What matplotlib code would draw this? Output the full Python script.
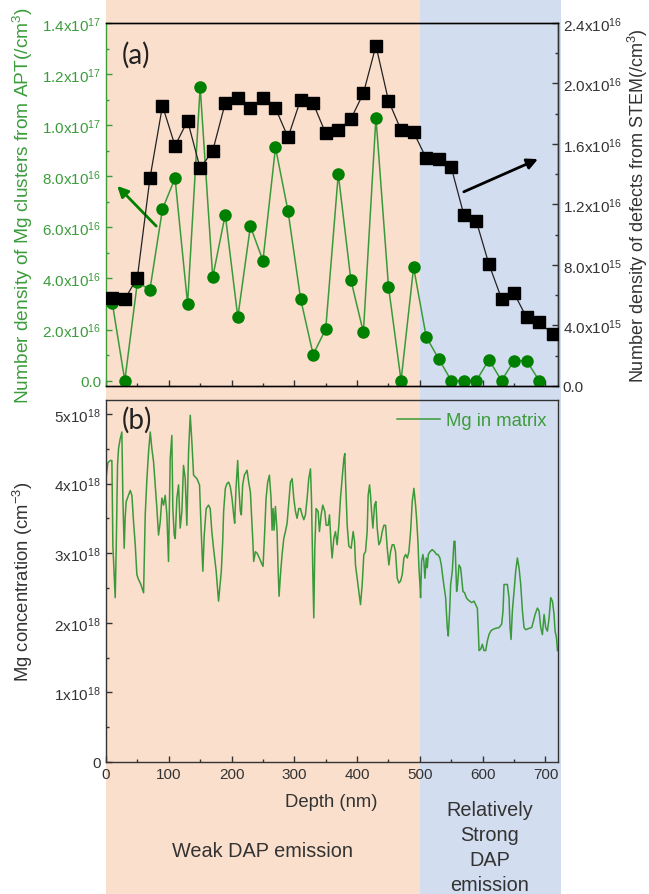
#!/usr/bin/env python3
"""Mg cluster / defect density (a) and Mg-in-matrix profile (b) vs depth."""
import matplotlib

matplotlib.use("Agg")
import matplotlib.pyplot as plt
import numpy as np
from matplotlib.patches import Rectangle
from matplotlib.ticker import FuncFormatter, MultipleLocator
from matplotlib.transforms import blended_transform_factory

# (a) number density of Mg clusters from APT (/cm^3), left axis
APT_DEPTH = [10, 30, 50, 70, 90, 110, 130, 150, 170, 190, 210, 230, 250, 270, 290,
             310, 330, 350, 370, 390, 410, 430, 450, 470, 490, 510, 530, 550, 570,
             590, 610, 630, 650, 670, 690]
APT_DENSITY = [3.05e16, 0, 3.85e16, 3.56e16, 6.72e16, 7.92e16, 3.0e16, 1.15e17,
               4.05e16, 6.5e16, 2.48e16, 6.04e16, 4.7e16, 9.13e16, 6.63e16, 3.2e16,
               1.02e16, 2.02e16, 8.09e16, 3.95e16, 1.89e16, 1.03e17, 3.68e16, 0,
               4.44e16, 1.72e16, 0.85e16, 0, 0, 0, 0.82e16, 0, 0.78e16, 0.78e16, 0]

# (a) number density of defects from STEM (/cm^3), right axis
STEM_DEPTH = [10, 30, 50, 70, 90, 110, 130, 150, 170, 190, 210, 230, 250, 270, 290,
              310, 330, 350, 370, 390, 410, 430, 450, 470, 490, 510, 530, 550, 570,
              590, 610, 630, 650, 670, 690, 712]
STEM_DENSITY = [5.85e15, 5.74e15, 7.17e15, 13.73e15, 18.53e15, 15.88e15, 17.54e15,
                14.39e15, 15.55e15, 18.71e15, 19.04e15, 18.36e15, 19.04e15, 18.36e15,
                16.44e15, 18.93e15, 18.69e15, 16.70e15, 16.92e15, 17.65e15, 19.35e15,
                22.5e15, 18.86e15, 16.92e15, 16.77e15, 15.07e15, 15.0e15, 14.45e15,
                11.32e15, 10.88e15, 8.05e15, 5.78e15, 6.13e15, 4.53e15, 4.2e15, 3.42e15]

# (b) Mg in matrix, units of 1e18 cm^-3
MG_DEPTH = [
    0, 3, 7, 9.4, 11, 12, 14.7, 16.3, 18.4, 20, 22.6, 25.3, 26.9, 29, 30.5, 32.2,
    35.9, 38.6, 41.3, 43.9, 46.6, 49.2, 51.9, 55.6, 59.9, 62.5, 65.2, 67.8, 70.5,
    73.1, 75.8, 78.4, 81.1, 83.7, 86.4, 89.0, 91.7, 94.3, 97.0, 99.6, 102.3, 104.9,
    106.5, 108.7, 110.3, 112.9, 115.6, 118.2, 120.9, 123.5, 126.2, 128.8, 131.5,
    134.2, 136.8, 139.5, 144.8, 149.0, 151.7, 154.3, 156.5, 159.6, 163.3, 166.0,
    168.6, 171.3, 175.5, 179.3,
    183.7, 185.9, 187.4, 190.1, 192.8, 195.4, 198.1, 200.7, 203.4, 205.0, 207.1,
    209.8, 211.4, 214.0, 215.6, 217.7, 220.4, 224.7, 227.3, 230.0, 231.6, 233.7,
    235.3, 238.0, 240.6, 244.3, 247.5, 250.2, 252.8, 255.0, 257.6, 260.3, 262.9,
    264.6, 266.2, 267.7, 269.9, 272.5, 274.1, 275.7, 277.9, 280.5, 283.2, 285.8,
    288.5, 291.2, 293.8, 296.5, 299.1, 301.8, 304.4, 307.1, 309.8, 312.4, 315.1,
    317.7, 320.4, 323.0, 325.7, 327.3, 329.4, 331.0, 332.6, 334.7, 337.9, 340.0,
    342.7, 345.3, 348.5, 350.7, 353.9, 356.0, 358.6, 360.2, 362.9,
    365.5, 368.2, 370.9, 373.5, 376.2, 378.9, 380.4, 381.5, 384.2, 386.8, 390.5,
    393.7, 395.9, 397.4, 400.1, 402.8, 405.4, 408.1, 410.7, 413.4, 416.0, 417.6,
    419.8, 421.4, 423.0, 425.1, 427.8, 429.9, 432.0, 434.7, 437.3, 440.0, 442.7,
    445.3, 448.0, 450.6, 453.3, 455.9, 458.6, 461.2, 463.9, 466.6, 469.2, 471.9,
    474.5, 477.2, 479.9, 482.5, 485.2, 487.8, 490.5, 493.1, 494.7, 496.9, 498.5,
    500.1, 501.1, 502.7, 504.8, 506.4, 508.0, 510.2, 511.8, 513.4, 516.0, 519.7,
    523.4, 526.6, 528.8, 531.9, 534.1, 537.3,
    541.0, 543.6, 545.2, 547.4, 549.0, 551.6, 554.3, 555.9, 556.9, 558.5, 560.1,
    562.3, 564.9, 566.5, 568.6, 571.3, 574.0, 576.6, 579.3, 582.5, 586.2, 588.8,
    591.5, 593.1, 594.2, 596.8, 599.5, 602.1, 604.8, 607.5, 610.1, 612.8, 615.4,
    620.7, 626.0, 630.3, 632.4, 634.0, 636.7, 639.3, 642.0, 643.6, 645.2, 647.3,
    650.0, 652.6, 655.3, 657.9, 660.6, 663.3, 665.9, 668.6, 673.9, 678.1, 680.8,
    683.5, 687.2, 689.8, 692.5, 695.1, 697.8, 700.4, 703.1, 705.8, 708.4, 711.1,
    713.7, 715.3, 717.5, 719.1,
]
MG_CONC = [
    4.07, 4.30, 4.33, 4.33, 3.10, 2.90, 2.36, 3.07, 4.26, 4.50, 4.64, 4.74, 3.79,
    3.07, 3.50, 3.74, 3.83, 3.90, 3.83, 3.45, 3.12, 2.69, 2.62, 2.55, 2.43, 3.55,
    4.07, 4.45, 4.74, 4.50, 4.31, 3.98, 3.64, 3.26, 3.45, 3.79, 3.69, 3.83, 3.55,
    2.88, 4.36, 4.69, 3.64, 3.26, 3.21, 3.79, 3.98, 3.36, 3.60, 4.26, 4.07, 3.40,
    4.45, 4.98, 4.60, 4.12, 4.07, 3.98, 3.31, 2.74, 3.26, 3.64, 3.69, 3.64, 3.31,
    3.07, 2.74, 2.31,
    2.74, 3.17, 3.60, 3.93, 4.00, 4.02, 3.95, 3.79, 3.55, 3.43, 3.93, 4.33, 3.98,
    3.60, 3.55, 3.98, 4.12, 4.19, 4.02, 3.88, 3.60, 3.21, 2.88, 3.02, 3.00, 2.93,
    2.86, 2.81, 3.31, 3.79, 4.02, 4.12, 3.79, 3.33, 3.64, 3.33, 3.67, 3.31, 2.79,
    2.38, 2.69, 2.98, 3.21, 3.31, 3.43, 3.74, 4.02, 4.07, 3.79, 3.60, 3.50, 3.64,
    3.64, 3.55, 3.48, 3.55, 3.79, 4.07, 4.21, 3.79, 2.74, 2.07, 3.07, 3.64, 3.60,
    3.31, 3.55, 3.69, 3.60, 3.40, 3.40, 3.55, 3.12, 2.93, 3.21,
    3.31, 3.12, 3.40, 3.79, 4.07, 4.36, 4.43, 4.07, 3.40, 3.10, 3.07, 3.31, 3.17,
    2.83, 2.64, 2.45, 2.26, 2.55, 2.98, 3.02, 3.31, 3.83, 3.98, 3.83, 3.60, 3.36,
    3.69, 3.74, 3.36, 3.12, 3.17, 3.31, 3.40, 3.40, 3.07, 2.83, 3.02, 3.12, 3.12,
    3.02, 2.64, 2.57, 2.60, 2.69, 2.93, 2.98, 2.93, 3.02, 3.31, 3.74, 3.93, 3.69,
    3.50, 3.17, 2.79, 2.55, 2.36, 2.88, 2.98, 2.88, 2.64, 2.93, 2.79, 2.98, 3.02,
    3.05, 3.02, 2.98, 2.98, 2.93, 2.83, 2.60,
    2.36, 1.93, 1.81, 2.17, 2.55, 2.74, 3.17, 3.17, 2.88, 2.45, 2.55, 2.83, 2.79,
    2.64, 2.45, 2.43, 2.36, 2.33, 2.31, 2.29, 2.31, 2.26, 2.21, 1.88, 1.60, 1.62,
    1.69, 1.60, 1.60, 1.74, 1.83, 1.88, 1.90, 1.92, 1.93, 1.98, 2.17, 2.55, 2.55,
    2.55, 2.36, 1.93, 1.76, 2.17, 2.45, 2.74, 2.93, 2.79, 2.55, 2.17, 1.93, 1.90,
    1.92, 1.93, 2.02, 2.12, 2.21, 2.17, 1.93, 1.83, 2.12, 1.93, 1.88, 2.07, 2.36,
    2.31, 2.12, 1.88, 1.79, 1.60,
]

WEAK_END = 500
STRONG_END = 725

PEACH = "#fadfcc"
BLUE = "#d3ddf0"
GREEN = "#008000"
GREEN_LINE = "#3a9a3a"
GREEN_TXT = "#3c9c3c"
DARK = "#333333"

plt.rcParams["font.family"] = ["Liberation Sans", "DejaVu Sans"]
plt.rcParams["mathtext.fontset"] = "custom"
plt.rcParams["mathtext.rm"] = "Liberation Sans"
plt.rcParams["axes.linewidth"] = 1.0


def _sci(decimals: int) -> FuncFormatter:
    def fmt(v, pos):
        if v < -1.0:
            return ""
        if abs(v) <= 1.0:
            return "0.0" if decimals else "0"
        e = int(np.floor(np.log10(v) + 1e-9))
        m = v / 10 ** e
        return rf"{m:.{decimals}f}x10$\mathregular{{^{{{e}}}}}$"
    return FuncFormatter(fmt)


def _ticks(ax, color=DARK):
    ax.tick_params(which="major", direction="in", length=4, width=1, color=color,
                   labelsize=11, labelcolor=color)
    ax.tick_params(which="minor", direction="in", length=2.5, width=1, color=color)


fig = plt.figure(figsize=(6.49, 8.95), dpi=100)
ax1 = fig.add_axes([0.1633, 0.5676, 0.6965, 0.4056])
ax2 = fig.add_axes([0.1633, 0.1475, 0.6965, 0.4045])
for ax in (ax1, ax2):
    ax.set_facecolor("none")
    ax.set_xlim(0, 720)
    ax.xaxis.set_major_locator(MultipleLocator(100))
    ax.xaxis.set_minor_locator(MultipleLocator(50))
    for sp in ax.spines.values():
        sp.set_color(DARK)

# background bands spanning the whole figure height
band = blended_transform_factory(ax2.transData, fig.transFigure)
fig.add_artist(Rectangle((0, 0), WEAK_END, 1, transform=band, color=PEACH, zorder=-1, lw=0))
fig.add_artist(Rectangle((WEAK_END, 0), STRONG_END - WEAK_END, 1, transform=band,
                         color=BLUE, zorder=-1, lw=0))

# ---- (a)
ax1.plot(APT_DEPTH, APT_DENSITY, "-", color=GREEN_LINE, lw=1.1, zorder=2)
ax1.plot(APT_DEPTH, APT_DENSITY, "o", color=GREEN, ms=8, mec=GREEN, zorder=3)
ax1.set_ylim(-2.1e15, 1.4e17)
ax1.yaxis.set_major_locator(MultipleLocator(2e16))
ax1.yaxis.set_minor_locator(MultipleLocator(1e16))
ax1.yaxis.set_major_formatter(_sci(1))
_ticks(ax1)
ax1.tick_params(axis="y", which="both", color=GREEN_TXT, labelcolor=GREEN_TXT)
ax1.tick_params(labelbottom=False)
ax1.spines["left"].set_color(GREEN_TXT)
ax1.set_ylabel(r"Number density of Mg clusters from APT(/cm$\mathregular{^3}$)",
               color=GREEN_TXT, fontsize=13.8)
ax1.yaxis.set_label_coords(-0.158, 0.5)
ax1.text(0.034, 0.95, "(a)", transform=ax1.transAxes, fontsize=20, va="top",
         family=["Lato", "DejaVu Sans"], color="#222222")
ax1.annotate("", xy=(18, 7.62e16), xytext=(80, 6.05e16),
             arrowprops=dict(arrowstyle="-|>", lw=2, color=GREEN, mutation_scale=16,
                             shrinkA=0, shrinkB=0))

axr = ax1.twinx()
axr.plot(STEM_DEPTH, STEM_DENSITY, "-", color="#222222", lw=0.9, zorder=2)
axr.plot(STEM_DEPTH, STEM_DENSITY, "s", color="black", ms=8.5, zorder=3)
axr.set_ylim(0, 2.4e16)
axr.yaxis.set_major_locator(MultipleLocator(4e15))
axr.yaxis.set_minor_locator(MultipleLocator(2e15))
axr.yaxis.set_major_formatter(_sci(1))
_ticks(axr)
axr.spines["left"].set_visible(False)
axr.spines["right"].set_color(DARK)
axr.set_ylabel(r"Number density of defects from STEM(/cm$\mathregular{^3}$)",
               color=DARK, fontsize=13)
axr.yaxis.set_label_coords(1.150, 0.5)
axr.annotate("", xy=(688, 15.0e15), xytext=(570, 12.84e15),
             arrowprops=dict(arrowstyle="-|>", lw=2, color="black", mutation_scale=16,
                             shrinkA=0, shrinkB=0))

# ---- (b)
ax2.plot(MG_DEPTH, np.array(MG_CONC) * 1e18, "-", color=GREEN_LINE, lw=1.1,
         label="Mg in matrix")
ax2.set_ylim(0, 5.2e18)
ax2.yaxis.set_major_locator(MultipleLocator(1e18))
ax2.yaxis.set_minor_locator(MultipleLocator(5e17))
ax2.yaxis.set_major_formatter(_sci(0))
_ticks(ax2)
ax2.set_ylabel(r"Mg concentration (cm$\mathregular{^{-3}}$)", color=DARK, fontsize=13.3)
ax2.yaxis.set_label_coords(-0.158, 0.5)
ax2.set_xlabel("Depth (nm)", color=DARK, fontsize=13.3)
ax2.xaxis.set_label_coords(0.498, -0.085)
ax2.text(0.034, 0.985, "(b)", transform=ax2.transAxes, fontsize=20, va="top",
         family=["Lato", "DejaVu Sans"], color="#222222")
leg = ax2.legend(loc="upper right", frameon=False, fontsize=13.3, handlelength=2.3,
                 handletextpad=0.3, borderaxespad=0.25, labelcolor=GREEN_TXT)

fig.text(0.404, 0.049, "Weak DAP emission", ha="center", va="center", fontsize=14.3,
         color=DARK)
fig.text(0.755, 0.0525, "Relatively\nStrong\nDAP\nemission", ha="center", va="center",
         fontsize=14.3, color=DARK, linespacing=1.39)

fig.savefig("out.png", dpi=100)
plt.close(fig)
